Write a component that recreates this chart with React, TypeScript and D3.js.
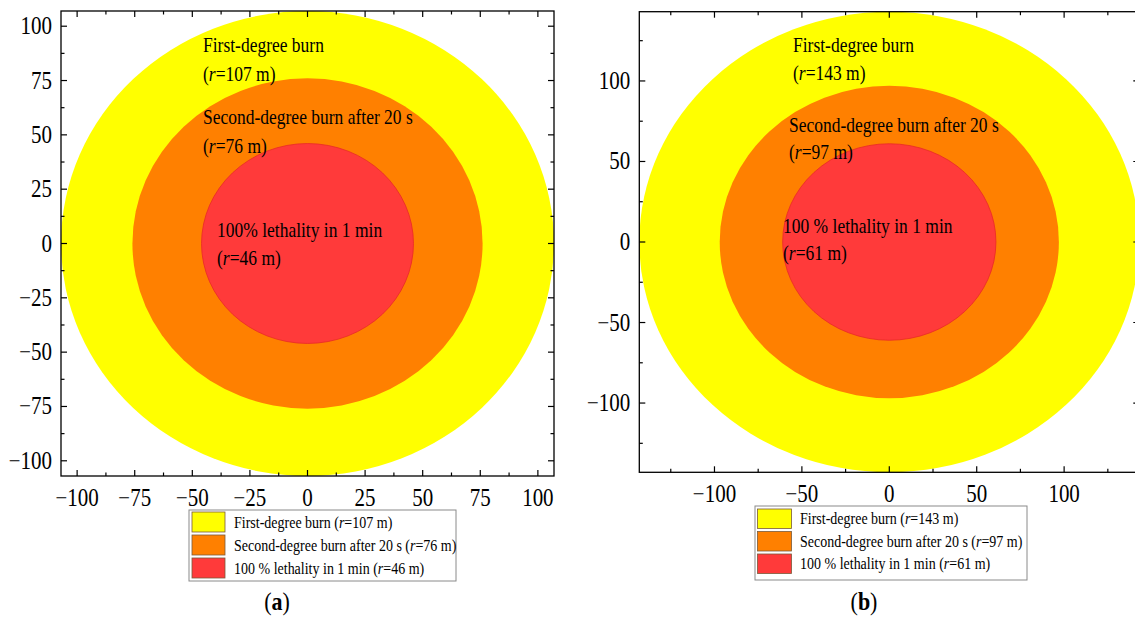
import React from "react";
import * as d3 from "d3";

// ---- data ----
const zoneNames = ["First-degree burn", "Second-degree burn after 20 s", "100 % lethality in 1 min"];
const zoneColors = ["#FFFF00", "#FF8000", "#FF3A3A"];
const zoneStrokes = ["none", "none", "#E82828"];
const radiiA = [107, 76, 46];
const radiiB = [143, 97, 61];
const domainA = [-107, 107];
const domainB = [-143, 143];
const majorTicksA = [-100, -75, -50, -25, 0, 25, 50, 75, 100];
const minorTicksA = [-87.5, -62.5, -37.5, -12.5, 12.5, 37.5, 62.5, 87.5];
const majorTicksB = [-100, -50, 0, 50, 100];
const minorTicksB = [-125, -75, -25, 25, 75, 125];
const inPlotNamesA = ["First-degree burn", "Second-degree burn after 20 s", "100% lethality in 1 min"];
const inPlotNamesB = ["First-degree burn", "Second-degree burn after 20 s", "100 % lethality in 1 min"];

const FONT = "'Liberation Serif', 'Times New Roman', serif";
const STRETCH = 1.15;

function T(props: { x: number; y: number; anchor?: string; size: number; weight?: string; children: React.ReactNode }) {
  return (
    <text transform={`translate(${props.x},${props.y}) scale(1,${STRETCH})`}
      textAnchor={props.anchor || "start"} fontFamily={FONT} fontSize={props.size}
      fontWeight={props.weight || "normal"} fill="#000">
      {props.children}
    </text>
  );
}

type PanelProps = {
  left: number; right: number; top: number; bottom: number;
  domain: number[]; radii: number[]; major: number[]; minor: number[];
  names: string[];
  labelPos: { x: number; y1: number; y2: number }[];
  legend: { x: number; y: number; w: number; h: number; sx: number; sw: number; sh: number; rowY: number[]; tx: number };
  caption: string; captionX: number;
};

function Panel(p: PanelProps) {
  const x = d3.scaleLinear().domain(p.domain).range([p.left, p.right]);
  const y = d3.scaleLinear().domain(p.domain).range([p.bottom, p.top]);
  const fmt = d3.format("d");
  const majLen = 6, minLen = 3.5;
  const clipId = "clip" + p.caption;
  return (
    <g>
      <defs>
        <clipPath id={clipId}>
          <rect x={p.left} y={p.top} width={p.right - p.left} height={p.bottom - p.top} />
        </clipPath>
      </defs>
      <g clipPath={`url(#${clipId})`}>
        {p.radii.map((r, i) => (
          <ellipse key={i} cx={x(0)} cy={y(0)} rx={x(r) - x(0)} ry={y(0) - y(r)}
            fill={zoneColors[i]} stroke={zoneStrokes[i]} strokeWidth={0.8} />
        ))}
      </g>
      {/* in-plot labels */}
      {p.names.map((n, i) => (
        <g key={i}>
          <T x={p.labelPos[i].x} y={p.labelPos[i].y1} size={17.5}>{n}</T>
          <T x={p.labelPos[i].x} y={p.labelPos[i].y2} size={17.5}>
            (<tspan fontStyle="italic">r</tspan>={p.radii[i]} m)
          </T>
        </g>
      ))}
      {/* frame */}
      <rect x={p.left} y={p.top} width={p.right - p.left} height={p.bottom - p.top}
        fill="none" stroke="#000" strokeWidth={1.3} />
      {/* ticks */}
      <g stroke="#000" strokeWidth={1.2}>
        {p.major.map((t) => (
          <g key={"M" + t}>
            <line x1={x(t)} x2={x(t)} y1={p.bottom} y2={p.bottom - majLen} />
            <line x1={x(t)} x2={x(t)} y1={p.top} y2={p.top + majLen} />
            <line y1={y(t)} y2={y(t)} x1={p.left} x2={p.left + majLen} />
            <line y1={y(t)} y2={y(t)} x1={p.right} x2={p.right - majLen} />
          </g>
        ))}
        {p.minor.map((t) => (
          <g key={"m" + t}>
            <line x1={x(t)} x2={x(t)} y1={p.bottom} y2={p.bottom - minLen} />
            <line x1={x(t)} x2={x(t)} y1={p.top} y2={p.top + minLen} />
            <line y1={y(t)} y2={y(t)} x1={p.left} x2={p.left + minLen} />
            <line y1={y(t)} y2={y(t)} x1={p.right} x2={p.right - minLen} />
          </g>
        ))}
      </g>
      {/* tick labels */}
      {p.major.map((t) => (
        <T key={"x" + t} x={x(t)} y={p.bottom + 30} anchor="middle" size={21}>{fmt(t)}</T>
      ))}
      {p.major.map((t) => (
        <T key={"y" + t} x={p.left - 9} y={y(t) + 8} anchor="end" size={21}>{fmt(t)}</T>
      ))}
      {/* legend */}
      <rect x={p.legend.x} y={p.legend.y} width={p.legend.w} height={p.legend.h}
        fill="#fff" stroke="#8a8a8a" strokeWidth={1} />
      {zoneNames.map((n, i) => (
        <g key={i}>
          <rect x={p.legend.sx} y={p.legend.rowY[i]} width={p.legend.sw} height={p.legend.sh}
            fill={zoneColors[i]} stroke="#7a5a3a" strokeWidth={0.8} />
          <T x={p.legend.tx} y={p.legend.rowY[i] + p.legend.sh / 2 + 5.5} size={14}>
            {n} (<tspan fontStyle="italic">r</tspan>={p.radii[i]} m)
          </T>
        </g>
      ))}
      <T x={p.captionX} y={610} anchor="middle" size={22}>
        (<tspan fontWeight="bold">{p.caption}</tspan>)
      </T>
    </g>
  );
}

export default function App() {
  return (
    <div style={{ position: "absolute", left: 0, top: 0 }}>
      <svg width={1135} height={621} style={{ display: "block", background: "#fff" }}>
        <Panel left={61} right={554} top={11} bottom={476} domain={domainA} radii={radiiA}
          major={majorTicksA} minor={minorTicksA} names={inPlotNamesA}
          labelPos={[{ x: 203, y1: 52, y2: 81 }, { x: 203, y1: 124, y2: 153 }, { x: 217, y1: 237, y2: 265 }]}
          legend={{ x: 189, y: 510, w: 267, h: 71, sx: 192, sw: 33, sh: 20, rowY: [512, 535, 558], tx: 234 }}
          caption="a" captionX={277} />
        <Panel left={639.3} right={1139.3} top={11.7} bottom={472.3} domain={domainB} radii={radiiB}
          major={majorTicksB} minor={minorTicksB} names={inPlotNamesB}
          labelPos={[{ x: 793, y1: 52, y2: 80 }, { x: 789, y1: 132, y2: 159 }, { x: 783, y1: 233, y2: 260 }]}
          legend={{ x: 755, y: 506, w: 272, h: 74, sx: 757.5, sw: 34, sh: 19.5, rowY: [509, 531.5, 554], tx: 800 }}
          caption="b" captionX={864} />
      </svg>
    </div>
  );
}
